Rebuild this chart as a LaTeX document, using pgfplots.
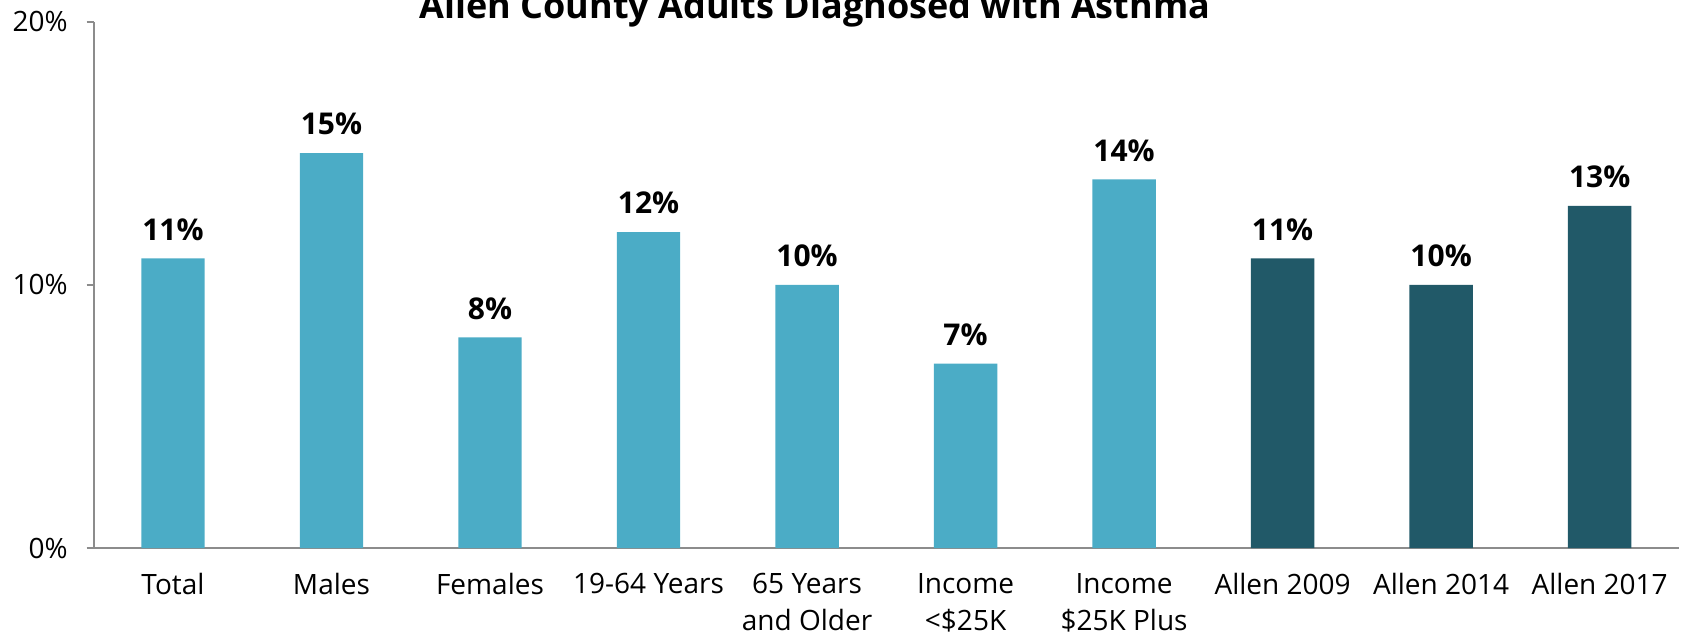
\documentclass[border=0pt]{standalone}
\usepackage{fontspec}
\setmainfont{Open Sans}
\usepackage{pgfplots}
\pgfplotsset{compat=1.18}

\definecolor{barlight}{HTML}{4BACC6}
\definecolor{bardark}{HTML}{215968}
\definecolor{axisgray}{HTML}{8C8C8C}

\begin{document}
\begin{tikzpicture}
\begin{axis}[
    scale only axis,
    width=792.6pt, height=263.25pt,
    ymin=0, ymax=20,
    xmin=-0.5, xmax=9.5,
    ybar, bar width=0.4, bar shift=0pt,
    axis x line*=bottom, axis y line*=left,
    axis line style={axisgray, line width=1pt},
    tick style={axisgray, line width=1pt},
    tick align=outside,
    major tick length=3.5pt,
    minor tick length=4.7pt,
    xtick={0,...,9},
    xtick style={draw=none},
    minor xtick={-0.5,0.5,...,9.5},
    xticklabels={Total, Males, Females, 19-64 Years, 65 Years\\and Older,
        Income\\<\$25K, Income\\\$25K Plus, Allen 2009, Allen 2014, Allen 2017},
    xticklabel style={align=center, anchor=north, yshift=-5.5pt,
        font=\fontsize{14}{18.5}\selectfont},
    ytick={0,10,20},
    yticklabel={\pgfmathprintnumber{\tick}\%},
    yticklabel style={font=\fontsize{14}{17}\selectfont, xshift=-6pt},
    /pgf/number format/assume math mode=true,
    nodes near coords={\pgfmathprintnumber{\pgfplotspointmeta}\%},
    nodes near coords style={font=\fontsize{15}{18}\selectfont\bfseries, black, yshift=5.5pt},
]
\addplot[fill=barlight, draw=none] coordinates {
    (0,11) (1,15) (2,8) (3,12) (4,10) (5,7) (6,14)
};
\addplot[fill=bardark, draw=none] coordinates {
    (7,11) (8,10) (9,13)
};
\end{axis}
\node[anchor=base, font=\fontsize{18}{21}\selectfont\bfseries]
    at (360.65pt,265pt) {Allen County Adults Diagnosed with Asthma};
\pgfresetboundingbox
\useasboundingbox (-46.85pt,-43pt) rectangle (797.15pt,274pt);
\end{tikzpicture}
\end{document}
